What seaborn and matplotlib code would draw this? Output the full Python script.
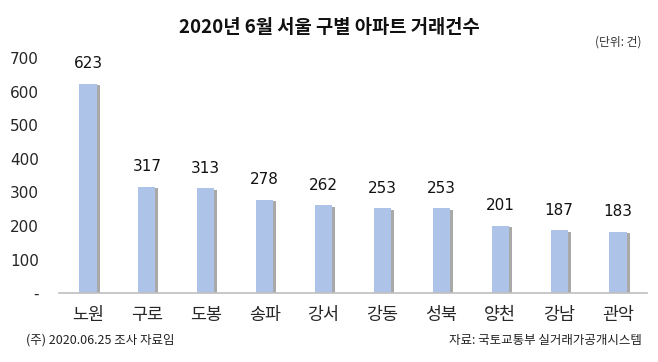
import matplotlib
matplotlib.use("Agg")
import matplotlib.pyplot as plt
import matplotlib.patheffects as pe
import seaborn as sns
import pandas as pd

districts = ["노원", "구로", "도봉", "송파", "강서", "강동", "성북", "양천", "강남", "관악"]
counts = [623, 317, 313, 278, 262, 253, 253, 201, 187, 183]
y_ticks = [0, 100, 200, 300, 400, 500, 600, 700]
y_tick_labels = ["-", "100", "200", "300", "400", "500", "600", "700"]

sns.set_theme(style="white")
plt.rcParams['font.family'] = ['Noto Sans CJK KR', 'DejaVu Sans']

df = pd.DataFrame({"district": districts, "count": counts})

fig = plt.figure(figsize=(6.58, 3.62), dpi=100)
ax = fig.add_axes([0.089, 0.19, 0.895, 0.65])

sns.barplot(data=df, x="district", y="count", color="#aec3e8", width=0.29,
            saturation=1, linewidth=0, edgecolor="none", ax=ax)
for p in ax.patches:
    p.set_path_effects([pe.SimplePatchShadow(offset=(2.2, -1.2), shadow_rgbFace="#9a9a9a", alpha=0.85),
                        pe.Normal()])

for c in ax.containers:
    ax.bar_label(c, labels=[str(v) for v in counts], padding=9, fontsize=11,
                 color="#111111", family=['DejaVu Sans'])

ax.set_ylim(0, 700)
ax.set_xlim(-0.5, len(districts) - 0.5)
ax.set_yticks(y_ticks)
ax.set_yticklabels(y_tick_labels, fontsize=11, family=['DejaVu Sans'])
ax.tick_params(axis='y', length=0, pad=14)
ax.tick_params(axis='x', length=0, pad=9, labelsize=12.5)
ax.set_xlabel("")
ax.set_ylabel("")
for s in ["top", "right", "left"]:
    ax.spines[s].set_visible(False)
ax.spines["bottom"].set_color("#bfbfbf")
ax.spines["bottom"].set_linewidth(1.2)

fig.text(0.5, 0.925, "2020년 6월 서울 구별 아파트 거래건수", ha="center", va="center",
         fontsize=13.5, fontweight="bold", color="#111111")
fig.text(0.975, 0.885, "(단위: 건)", ha="right", va="center", fontsize=8.5, color="#333333")
fig.text(0.04, 0.06, "(주) 2020.06.25 조사 자료임", ha="left", va="center", fontsize=9, color="#222222")
fig.text(0.975, 0.06, "자료: 국토교통부 실거래가공개시스템", ha="right", va="center", fontsize=9, color="#222222")

fig.savefig("out.png", dpi=100)
